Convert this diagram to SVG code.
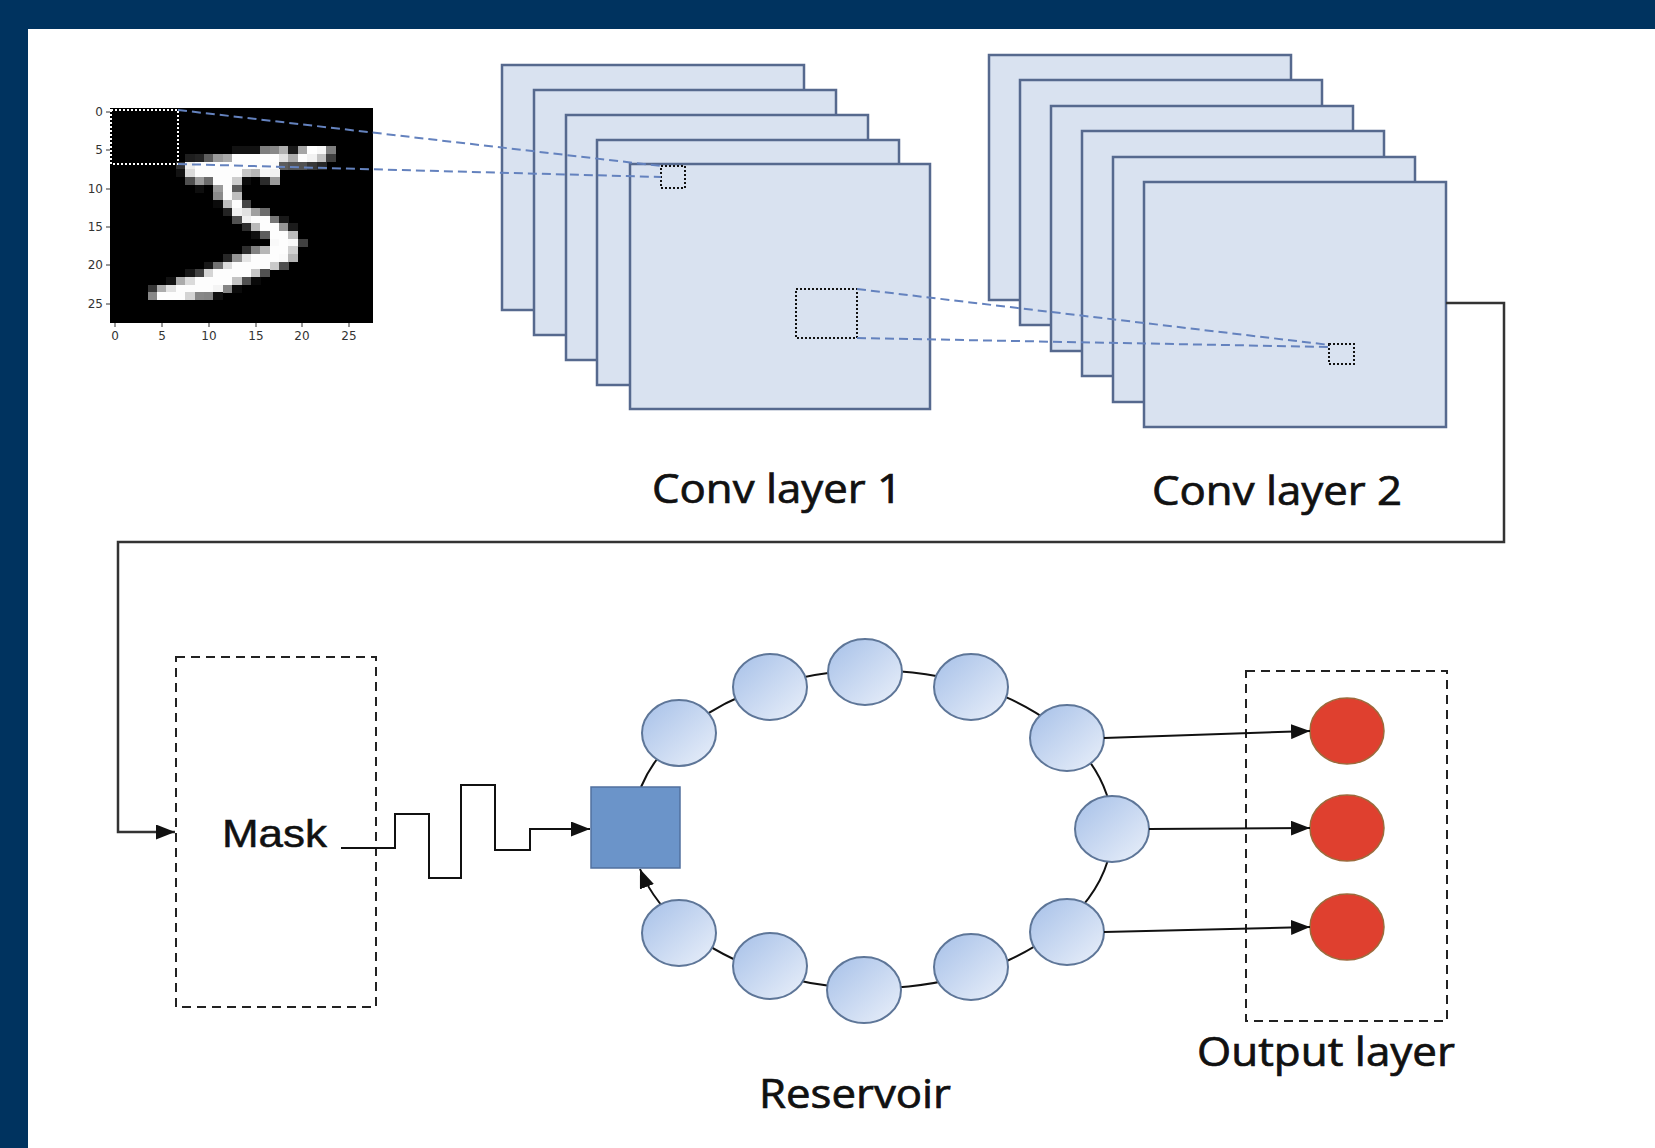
<svg xmlns="http://www.w3.org/2000/svg" width="1655" height="1148" viewBox="0 0 1655 1148">
<style>
.frame{fill:#00335F}
.fmap{fill:#D9E2F0;stroke:#56698E;stroke-width:2.5}
.dot{fill:none;stroke:#111;stroke-width:2;stroke-dasharray:2 2}
.wdot{fill:none;stroke:#fff;stroke-width:2;stroke-dasharray:2 2}
.proj{fill:none;stroke:#6482BE;stroke-width:2;stroke-dasharray:9 5}
.conn{fill:none;stroke:#333;stroke-width:2.5}
.arr{fill:none;stroke:#111;stroke-width:2}
.box{fill:none;stroke:#222;stroke-width:2;stroke-dasharray:9 6}
.node{fill:url(#ng);stroke:#5E7698;stroke-width:2}
.out{fill:#DF402F;stroke:#9C6A3C;stroke-width:1.5}
.lbl{font-family:"Open Sans","Noto Sans",sans-serif;font-size:40px;fill:#111;stroke:#111;stroke-width:0.7}
.tick{font-family:"DejaVu Sans",sans-serif;font-size:12px;fill:#333}
.tk{stroke:#333;stroke-width:1}
</style>
<defs>
<linearGradient id="ng" x1="0" y1="0" x2="1" y2="1">
<stop offset="0" stop-color="#A6C0E8"/>
<stop offset="1" stop-color="#EAF0FA"/>
</linearGradient>
<marker id="ah" markerUnits="userSpaceOnUse" markerWidth="20" markerHeight="15" refX="19" refY="7.5" orient="auto">
<path d="M0,0 L19,7.5 L0,15 z" fill="#111"/>
</marker>
</defs>
<rect width="1655" height="1148" fill="#fff"/>
<rect class="frame" x="0" y="0" width="1655" height="29"/>
<rect class="frame" x="0" y="0" width="28" height="1148"/>

<g id="mnist">
<rect x="110" y="108" width="263" height="215" fill="#000"/>
<g transform="translate(110,108) scale(9.393,7.679)" shape-rendering="crispEdges">
<rect x="13" y="5" width="3.05" height="1.05" fill="rgb(18,18,18)"/><rect x="16" y="5" width="1.05" height="1.05" fill="rgb(126,126,126)"/><rect x="17" y="5" width="1.05" height="1.05" fill="rgb(136,136,136)"/><rect x="18" y="5" width="1.05" height="1.05" fill="rgb(175,175,175)"/><rect x="19" y="5" width="1.05" height="1.05" fill="rgb(26,26,26)"/><rect x="20" y="5" width="1.05" height="1.05" fill="rgb(166,166,166)"/><rect x="21" y="5" width="1.05" height="1.05" fill="rgb(255,255,255)"/><rect x="22" y="5" width="1.05" height="1.05" fill="rgb(247,247,247)"/><rect x="23" y="5" width="1.05" height="1.05" fill="rgb(127,127,127)"/>
<rect x="8" y="6" width="1.05" height="1.05" fill="rgb(30,30,30)"/><rect x="9" y="6" width="1.05" height="1.05" fill="rgb(36,36,36)"/><rect x="10" y="6" width="1.05" height="1.05" fill="rgb(94,94,94)"/><rect x="11" y="6" width="1.05" height="1.05" fill="rgb(154,154,154)"/><rect x="12" y="6" width="1.05" height="1.05" fill="rgb(170,170,170)"/><rect x="13" y="6" width="5.05" height="1.05" fill="rgb(253,253,253)"/><rect x="18" y="6" width="1.05" height="1.05" fill="rgb(225,225,225)"/><rect x="19" y="6" width="1.05" height="1.05" fill="rgb(172,172,172)"/><rect x="20" y="6" width="1.05" height="1.05" fill="rgb(253,253,253)"/><rect x="21" y="6" width="1.05" height="1.05" fill="rgb(242,242,242)"/><rect x="22" y="6" width="1.05" height="1.05" fill="rgb(195,195,195)"/><rect x="23" y="6" width="1.05" height="1.05" fill="rgb(64,64,64)"/>
<rect x="7" y="7" width="1.05" height="1.05" fill="rgb(49,49,49)"/><rect x="8" y="7" width="1.05" height="1.05" fill="rgb(238,238,238)"/><rect x="9" y="7" width="8.05" height="1.05" fill="rgb(253,253,253)"/><rect x="17" y="7" width="1.05" height="1.05" fill="rgb(251,251,251)"/><rect x="18" y="7" width="1.05" height="1.05" fill="rgb(93,93,93)"/><rect x="19" y="7" width="2.05" height="1.05" fill="rgb(82,82,82)"/><rect x="21" y="7" width="1.05" height="1.05" fill="rgb(56,56,56)"/><rect x="22" y="7" width="1.05" height="1.05" fill="rgb(39,39,39)"/>
<rect x="7" y="8" width="1.05" height="1.05" fill="rgb(18,18,18)"/><rect x="8" y="8" width="1.05" height="1.05" fill="rgb(219,219,219)"/><rect x="9" y="8" width="5.05" height="1.05" fill="rgb(253,253,253)"/><rect x="14" y="8" width="1.05" height="1.05" fill="rgb(198,198,198)"/><rect x="15" y="8" width="1.05" height="1.05" fill="rgb(182,182,182)"/><rect x="16" y="8" width="1.05" height="1.05" fill="rgb(247,247,247)"/><rect x="17" y="8" width="1.05" height="1.05" fill="rgb(241,241,241)"/>
<rect x="8" y="9" width="1.05" height="1.05" fill="rgb(80,80,80)"/><rect x="9" y="9" width="1.05" height="1.05" fill="rgb(156,156,156)"/><rect x="10" y="9" width="1.05" height="1.05" fill="rgb(107,107,107)"/><rect x="11" y="9" width="2.05" height="1.05" fill="rgb(253,253,253)"/><rect x="13" y="9" width="1.05" height="1.05" fill="rgb(205,205,205)"/><rect x="14" y="9" width="1.05" height="1.05" fill="rgb(11,11,11)"/><rect x="16" y="9" width="1.05" height="1.05" fill="rgb(43,43,43)"/><rect x="17" y="9" width="1.05" height="1.05" fill="rgb(154,154,154)"/>
<rect x="9" y="10" width="1.05" height="1.05" fill="rgb(14,14,14)"/><rect x="11" y="10" width="1.05" height="1.05" fill="rgb(154,154,154)"/><rect x="12" y="10" width="1.05" height="1.05" fill="rgb(253,253,253)"/><rect x="13" y="10" width="1.05" height="1.05" fill="rgb(90,90,90)"/>
<rect x="11" y="11" width="1.05" height="1.05" fill="rgb(139,139,139)"/><rect x="12" y="11" width="1.05" height="1.05" fill="rgb(253,253,253)"/><rect x="13" y="11" width="1.05" height="1.05" fill="rgb(190,190,190)"/>
<rect x="11" y="12" width="1.05" height="1.05" fill="rgb(11,11,11)"/><rect x="12" y="12" width="1.05" height="1.05" fill="rgb(190,190,190)"/><rect x="13" y="12" width="1.05" height="1.05" fill="rgb(253,253,253)"/><rect x="14" y="12" width="1.05" height="1.05" fill="rgb(70,70,70)"/>
<rect x="12" y="13" width="1.05" height="1.05" fill="rgb(35,35,35)"/><rect x="13" y="13" width="1.05" height="1.05" fill="rgb(241,241,241)"/><rect x="14" y="13" width="1.05" height="1.05" fill="rgb(225,225,225)"/><rect x="15" y="13" width="1.05" height="1.05" fill="rgb(160,160,160)"/><rect x="16" y="13" width="1.05" height="1.05" fill="rgb(108,108,108)"/>
<rect x="13" y="14" width="1.05" height="1.05" fill="rgb(81,81,81)"/><rect x="14" y="14" width="1.05" height="1.05" fill="rgb(240,240,240)"/><rect x="15" y="14" width="2.05" height="1.05" fill="rgb(253,253,253)"/><rect x="17" y="14" width="1.05" height="1.05" fill="rgb(119,119,119)"/><rect x="18" y="14" width="1.05" height="1.05" fill="rgb(25,25,25)"/>
<rect x="14" y="15" width="1.05" height="1.05" fill="rgb(45,45,45)"/><rect x="15" y="15" width="1.05" height="1.05" fill="rgb(186,186,186)"/><rect x="16" y="15" width="2.05" height="1.05" fill="rgb(253,253,253)"/><rect x="18" y="15" width="1.05" height="1.05" fill="rgb(150,150,150)"/><rect x="19" y="15" width="1.05" height="1.05" fill="rgb(27,27,27)"/>
<rect x="15" y="16" width="1.05" height="1.05" fill="rgb(16,16,16)"/><rect x="16" y="16" width="1.05" height="1.05" fill="rgb(93,93,93)"/><rect x="17" y="16" width="2.05" height="1.05" fill="rgb(253,253,253)"/><rect x="19" y="16" width="1.05" height="1.05" fill="rgb(187,187,187)"/>
<rect x="17" y="17" width="1.05" height="1.05" fill="rgb(249,249,249)"/><rect x="18" y="17" width="1.05" height="1.05" fill="rgb(253,253,253)"/><rect x="19" y="17" width="1.05" height="1.05" fill="rgb(249,249,249)"/><rect x="20" y="17" width="1.05" height="1.05" fill="rgb(64,64,64)"/>
<rect x="14" y="18" width="1.05" height="1.05" fill="rgb(46,46,46)"/><rect x="15" y="18" width="1.05" height="1.05" fill="rgb(130,130,130)"/><rect x="16" y="18" width="1.05" height="1.05" fill="rgb(183,183,183)"/><rect x="17" y="18" width="2.05" height="1.05" fill="rgb(253,253,253)"/><rect x="19" y="18" width="1.05" height="1.05" fill="rgb(207,207,207)"/>
<rect x="12" y="19" width="1.05" height="1.05" fill="rgb(39,39,39)"/><rect x="13" y="19" width="1.05" height="1.05" fill="rgb(148,148,148)"/><rect x="14" y="19" width="1.05" height="1.05" fill="rgb(229,229,229)"/><rect x="15" y="19" width="3.05" height="1.05" fill="rgb(253,253,253)"/><rect x="18" y="19" width="1.05" height="1.05" fill="rgb(250,250,250)"/><rect x="19" y="19" width="1.05" height="1.05" fill="rgb(182,182,182)"/>
<rect x="10" y="20" width="1.05" height="1.05" fill="rgb(24,24,24)"/><rect x="11" y="20" width="1.05" height="1.05" fill="rgb(114,114,114)"/><rect x="12" y="20" width="1.05" height="1.05" fill="rgb(221,221,221)"/><rect x="13" y="20" width="4.05" height="1.05" fill="rgb(253,253,253)"/><rect x="17" y="20" width="1.05" height="1.05" fill="rgb(201,201,201)"/><rect x="18" y="20" width="1.05" height="1.05" fill="rgb(78,78,78)"/>
<rect x="8" y="21" width="1.05" height="1.05" fill="rgb(23,23,23)"/><rect x="9" y="21" width="1.05" height="1.05" fill="rgb(66,66,66)"/><rect x="10" y="21" width="1.05" height="1.05" fill="rgb(213,213,213)"/><rect x="11" y="21" width="4.05" height="1.05" fill="rgb(253,253,253)"/><rect x="15" y="21" width="1.05" height="1.05" fill="rgb(198,198,198)"/><rect x="16" y="21" width="1.05" height="1.05" fill="rgb(81,81,81)"/>
<rect x="6" y="22" width="1.05" height="1.05" fill="rgb(18,18,18)"/><rect x="7" y="22" width="1.05" height="1.05" fill="rgb(171,171,171)"/><rect x="8" y="22" width="1.05" height="1.05" fill="rgb(219,219,219)"/><rect x="9" y="22" width="4.05" height="1.05" fill="rgb(253,253,253)"/><rect x="13" y="22" width="1.05" height="1.05" fill="rgb(195,195,195)"/><rect x="14" y="22" width="1.05" height="1.05" fill="rgb(80,80,80)"/><rect x="15" y="22" width="1.05" height="1.05" fill="rgb(9,9,9)"/>
<rect x="4" y="23" width="1.05" height="1.05" fill="rgb(55,55,55)"/><rect x="5" y="23" width="1.05" height="1.05" fill="rgb(172,172,172)"/><rect x="6" y="23" width="1.05" height="1.05" fill="rgb(226,226,226)"/><rect x="7" y="23" width="4.05" height="1.05" fill="rgb(253,253,253)"/><rect x="11" y="23" width="1.05" height="1.05" fill="rgb(244,244,244)"/><rect x="12" y="23" width="1.05" height="1.05" fill="rgb(133,133,133)"/><rect x="13" y="23" width="1.05" height="1.05" fill="rgb(11,11,11)"/>
<rect x="4" y="24" width="1.05" height="1.05" fill="rgb(136,136,136)"/><rect x="5" y="24" width="3.05" height="1.05" fill="rgb(253,253,253)"/><rect x="8" y="24" width="1.05" height="1.05" fill="rgb(212,212,212)"/><rect x="9" y="24" width="1.05" height="1.05" fill="rgb(135,135,135)"/><rect x="10" y="24" width="1.05" height="1.05" fill="rgb(132,132,132)"/><rect x="11" y="24" width="1.05" height="1.05" fill="rgb(16,16,16)"/>
</g>
<rect class="wdot" x="111" y="110" width="67" height="54"/>
<g class="tk">
<line x1="106" y1="112" x2="110" y2="112"/><line x1="106" y1="150" x2="110" y2="150"/><line x1="106" y1="189" x2="110" y2="189"/><line x1="106" y1="227" x2="110" y2="227"/><line x1="106" y1="265" x2="110" y2="265"/><line x1="106" y1="304" x2="110" y2="304"/>
<line x1="115" y1="323" x2="115" y2="327"/><line x1="162" y1="323" x2="162" y2="327"/><line x1="209" y1="323" x2="209" y2="327"/><line x1="256" y1="323" x2="256" y2="327"/><line x1="302" y1="323" x2="302" y2="327"/><line x1="349" y1="323" x2="349" y2="327"/>
</g>
<g class="tick" text-anchor="end">
<text x="103" y="116">0</text><text x="103" y="154">5</text><text x="103" y="193">10</text><text x="103" y="231">15</text><text x="103" y="269">20</text><text x="103" y="308">25</text>
</g>
<g class="tick" text-anchor="middle">
<text x="115" y="340">0</text><text x="162" y="340">5</text><text x="209" y="340">10</text><text x="256" y="340">15</text><text x="302" y="340">20</text><text x="349" y="340">25</text>
</g>
</g>

<g id="conv1">
<rect class="fmap" x="502" y="65" width="302" height="245"/>
<rect class="fmap" x="534" y="90" width="302" height="245"/>
<rect class="fmap" x="566" y="115" width="302" height="245"/>
<rect class="fmap" x="597" y="140" width="302" height="245"/>
<rect class="fmap" x="630" y="164" width="300" height="245"/>
<rect class="dot" x="661" y="166" width="24" height="22"/>
<rect class="dot" x="796" y="289" width="61" height="49"/>
<text class="lbl" x="652" y="503" textLength="250" lengthAdjust="spacingAndGlyphs">Conv layer 1</text>
</g>

<g id="conv2">
<rect class="fmap" x="989" y="55" width="302" height="245"/>
<rect class="fmap" x="1020" y="80" width="302" height="245"/>
<rect class="fmap" x="1051" y="106" width="302" height="245"/>
<rect class="fmap" x="1082" y="131" width="302" height="245"/>
<rect class="fmap" x="1113" y="157" width="302" height="245"/>
<rect class="fmap" x="1144" y="182" width="302" height="245"/>
<rect class="dot" x="1329" y="344" width="25" height="20"/>
<text class="lbl" x="1152" y="505" textLength="250" lengthAdjust="spacingAndGlyphs">Conv layer 2</text>
</g>

<g id="mask">
<rect class="box" x="176" y="657" width="200" height="350"/>
<text x="222" y="847" font-family="'Liberation Sans',Arial,sans-serif" font-size="38" fill="#111" stroke="#111" stroke-width="0.5" textLength="105" lengthAdjust="spacingAndGlyphs">Mask</text>
</g>

<g id="reservoir-ring">
<path class="arr" d="M641,787 A240,159 0 1 1 640,869" marker-end="url(#ah)"/>
</g>

<g id="input-node">
<rect x="591" y="787" width="89" height="81" fill="#6B94C9" stroke="#51709E" stroke-width="1.5"/>
</g>

<g id="reservoir">
<ellipse class="node" cx="679" cy="733" rx="37" ry="33"/>
<ellipse class="node" cx="770" cy="687" rx="37" ry="33"/>
<ellipse class="node" cx="865" cy="672" rx="37" ry="33"/>
<ellipse class="node" cx="971" cy="687" rx="37" ry="33"/>
<ellipse class="node" cx="1067" cy="738" rx="37" ry="33"/>
<ellipse class="node" cx="1112" cy="829" rx="37" ry="33"/>
<ellipse class="node" cx="1067" cy="932" rx="37" ry="33"/>
<ellipse class="node" cx="971" cy="967" rx="37" ry="33"/>
<ellipse class="node" cx="864" cy="990" rx="37" ry="33"/>
<ellipse class="node" cx="770" cy="966" rx="37" ry="33"/>
<ellipse class="node" cx="679" cy="933" rx="37" ry="33"/>
<text class="lbl" x="759" y="1108" textLength="192" lengthAdjust="spacingAndGlyphs">Reservoir</text>
</g>

<g id="output-layer">
<rect class="box" x="1246" y="671" width="201" height="350"/>
<ellipse class="out" cx="1347" cy="731" rx="37" ry="33"/>
<ellipse class="out" cx="1347" cy="828" rx="37" ry="33"/>
<ellipse class="out" cx="1347" cy="927" rx="37" ry="33"/>
<text class="lbl" x="1197" y="1066" textLength="258" lengthAdjust="spacingAndGlyphs">Output layer</text>
</g>

<g id="connectors">
<path class="proj" d="M178,110 L661,166"/>
<path class="proj" d="M178,164 L661,177"/>
<path class="proj" d="M857,289 L1330,345"/>
<path class="proj" d="M857,338 L1330,347"/>
<path class="conn" d="M1446,303 H1504 V542 H118 V832 H175" marker-end="url(#ah)"/>
<path class="arr" d="M341,848 H395 V814 H429 V878 H461 V785 H495 V850 H530 V829 H590" marker-end="url(#ah)"/>
<path class="arr" d="M1104,738 L1310,731" marker-end="url(#ah)"/>
<path class="arr" d="M1149,829 L1310,828" marker-end="url(#ah)"/>
<path class="arr" d="M1104,932 L1310,927" marker-end="url(#ah)"/>
</g>
</svg>
